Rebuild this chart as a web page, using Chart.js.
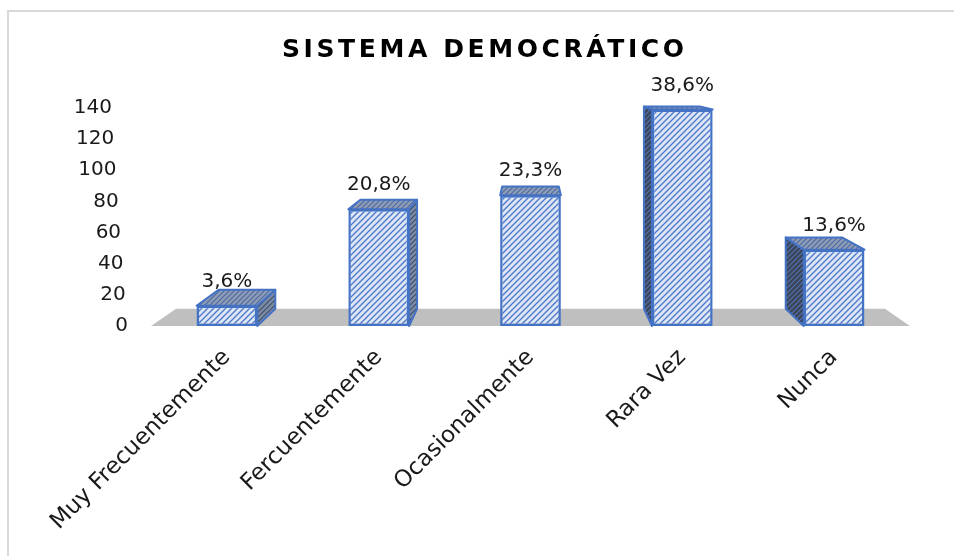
<!DOCTYPE html>
<html lang="es">
<head>
<meta charset="UTF-8">
<title>Sistema Democrático</title>
<script src="https://cdn.jsdelivr.net/npm/chart.js@4.4.7/dist/chart.umd.min.js"></script>
<style>
*{box-sizing:border-box;margin:0;padding:0}
body{background:#fff;width:954px;height:556px;overflow:hidden;position:relative}
.frame{position:absolute;left:7px;top:10px;width:960px;height:560px;border-left:2px solid #d9d9d9;border-top:2px solid #d9d9d9}
canvas{position:absolute;left:0;top:0}
</style>
</head>
<body>
<div class="frame"></div>
<canvas id="chart" width="954" height="556"></canvas>
<script>
const titleText = 'SISTEMA DEMOCRÁTICO';
const categories = ['Muy Frecuentemente', 'Fercuentemente', 'Ocasionalmente', 'Rara Vez', 'Nunca'];
const counts = [13, 75, 84, 139, 49];
const pctLabels = ['3,6%', '20,8%', '23,3%', '38,6%', '13,6%'];
const yTicks = [0, 20, 40, 60, 80, 100, 120, 140];

const FONT = "'DejaVu Sans', sans-serif";
const blue = '#4472c4';

function hatch(bg, fg, size, lw) {
  const c = document.createElement('canvas');
  c.width = c.height = size;
  const g = c.getContext('2d');
  g.fillStyle = bg;
  g.fillRect(0, 0, size, size);
  g.strokeStyle = fg;
  g.lineWidth = lw;
  g.beginPath();
  g.moveTo(-size, size * 2); g.lineTo(size * 2, -size);
  g.moveTo(-size, size); g.lineTo(size, -size);
  g.moveTo(0, size * 2); g.lineTo(size * 2, 0);
  g.stroke();
  return g.createPattern(c, 'repeat');
}

const frontFill = hatch('#dde7f6', '#5079c9', 6, 1.4);
const leftSideFill = hatch('#3b4557', '#5272b4', 5, 1.2);
const rightSideFill = hatch('#7d8ca5', '#3f4f6e', 5, 1.2);
const topFill = hatch('#8e9db4', '#4d6aa6', 5, 1.2);

// perspective: back face = front point pulled toward a vanishing point
const depthK = 0.066;

const box3d = {
  id: 'box3d',
  beforeDatasetsDraw(chart) {
    const { ctx, chartArea: a } = chart;
    const ys = chart.scales.y;
    const vx = (a.left + a.right) / 2, vy = a.top - 43;
    const B = (x, y) => [x + (vx - x) * depthK, y + (vy - y) * depthK];
    const y0 = ys.getPixelForValue(0);

    const poly = (pts, fill, stroke) => {
      ctx.beginPath();
      ctx.moveTo(pts[0][0], pts[0][1]);
      pts.slice(1).forEach(p => ctx.lineTo(p[0], p[1]));
      ctx.closePath();
      ctx.fillStyle = fill;
      ctx.fill();
      if (stroke) {
        ctx.strokeStyle = stroke;
        ctx.lineWidth = 2;
        ctx.lineJoin = 'round';
        ctx.stroke();
      }
    };

    ctx.save();
    poly([[a.left, y0], [a.right, y0], B(a.right, y0), B(a.left, y0)], '#bfbfbf');

    chart.getDatasetMeta(0).data.forEach(el => {
      const x0 = el.x - el.width / 2, x1 = el.x + el.width / 2;
      const yt = el.y, yb = el.base;
      if (x1 < vx) {
        poly([[x1, yt], [x1, yb], B(x1, yb), B(x1, yt)], rightSideFill, blue);
      } else if (x0 > vx) {
        poly([[x0, yt], [x0, yb], B(x0, yb), B(x0, yt)], leftSideFill, blue);
      }
      poly([[x0, yt], [x1, yt], B(x1, yt), B(x0, yt)], topFill, blue);
    });
    ctx.restore();
  },
  afterDatasetsDraw(chart) {
    const { ctx } = chart;
    ctx.save();
    ctx.font = '20px ' + FONT;
    ctx.fillStyle = '#1a1a1a';
    ctx.textAlign = 'center';
    ctx.textBaseline = 'middle';
    chart.getDatasetMeta(0).data.forEach((el, i) => {
      ctx.fillText(pctLabels[i], el.x, el.y - 24);
    });
    ctx.restore();
  },
  afterDraw(chart) {
    const { ctx, chartArea: a } = chart;
    const ys = chart.scales.y;
    const y0 = ys.getPixelForValue(0);
    ctx.save();
    // y tick labels, slanted like the 3D wall
    ctx.font = '20px ' + FONT;
    ctx.fillStyle = '#1a1a1a';
    ctx.textAlign = 'right';
    ctx.textBaseline = 'middle';
    yTicks.forEach(v => {
      const y = ys.getPixelForValue(v);
      ctx.fillText(String(v), a.left - 23 - (y0 - y) * 0.074, y);
    });
    // title
    ctx.font = 'bold 25px ' + FONT;
    ctx.letterSpacing = '3.6px';
    ctx.textAlign = 'left';
    ctx.textBaseline = 'alphabetic';
    const w = ctx.measureText(titleText).width - 3.6;
    ctx.fillStyle = '#000';
    ctx.fillText(titleText, 483 - w / 2, 57);
    ctx.restore();
  }
};

Chart.defaults.font.family = FONT;
Chart.defaults.color = '#1a1a1a';

new Chart(document.getElementById('chart'), {
  type: 'bar',
  data: {
    labels: categories,
    datasets: [{
      data: counts,
      backgroundColor: frontFill,
      borderColor: blue,
      borderWidth: 2.5,
      borderSkipped: false,
      categoryPercentage: 1,
      barPercentage: 0.4
    }]
  },
  options: {
    responsive: false,
    animation: false,
    layout: { padding: { top: 108, left: 151, right: 44, bottom: 0 } },
    plugins: { legend: { display: false }, tooltip: { enabled: false } },
    scales: {
      x: {
        grid: { display: false, drawTicks: false },
        border: { display: false },
        ticks: {
          autoSkip: false,
          minRotation: 45,
          maxRotation: 45,
          padding: 18,
          font: { size: 23 },
          color: '#1a1a1a'
        },
        afterFit(scale) { scale.height = 230; }
      },
      y: {
        display: false,
        min: 0,
        max: 140,
        ticks: { stepSize: 20 }
      }
    }
  },
  plugins: [box3d]
});
</script>
</body>
</html>
